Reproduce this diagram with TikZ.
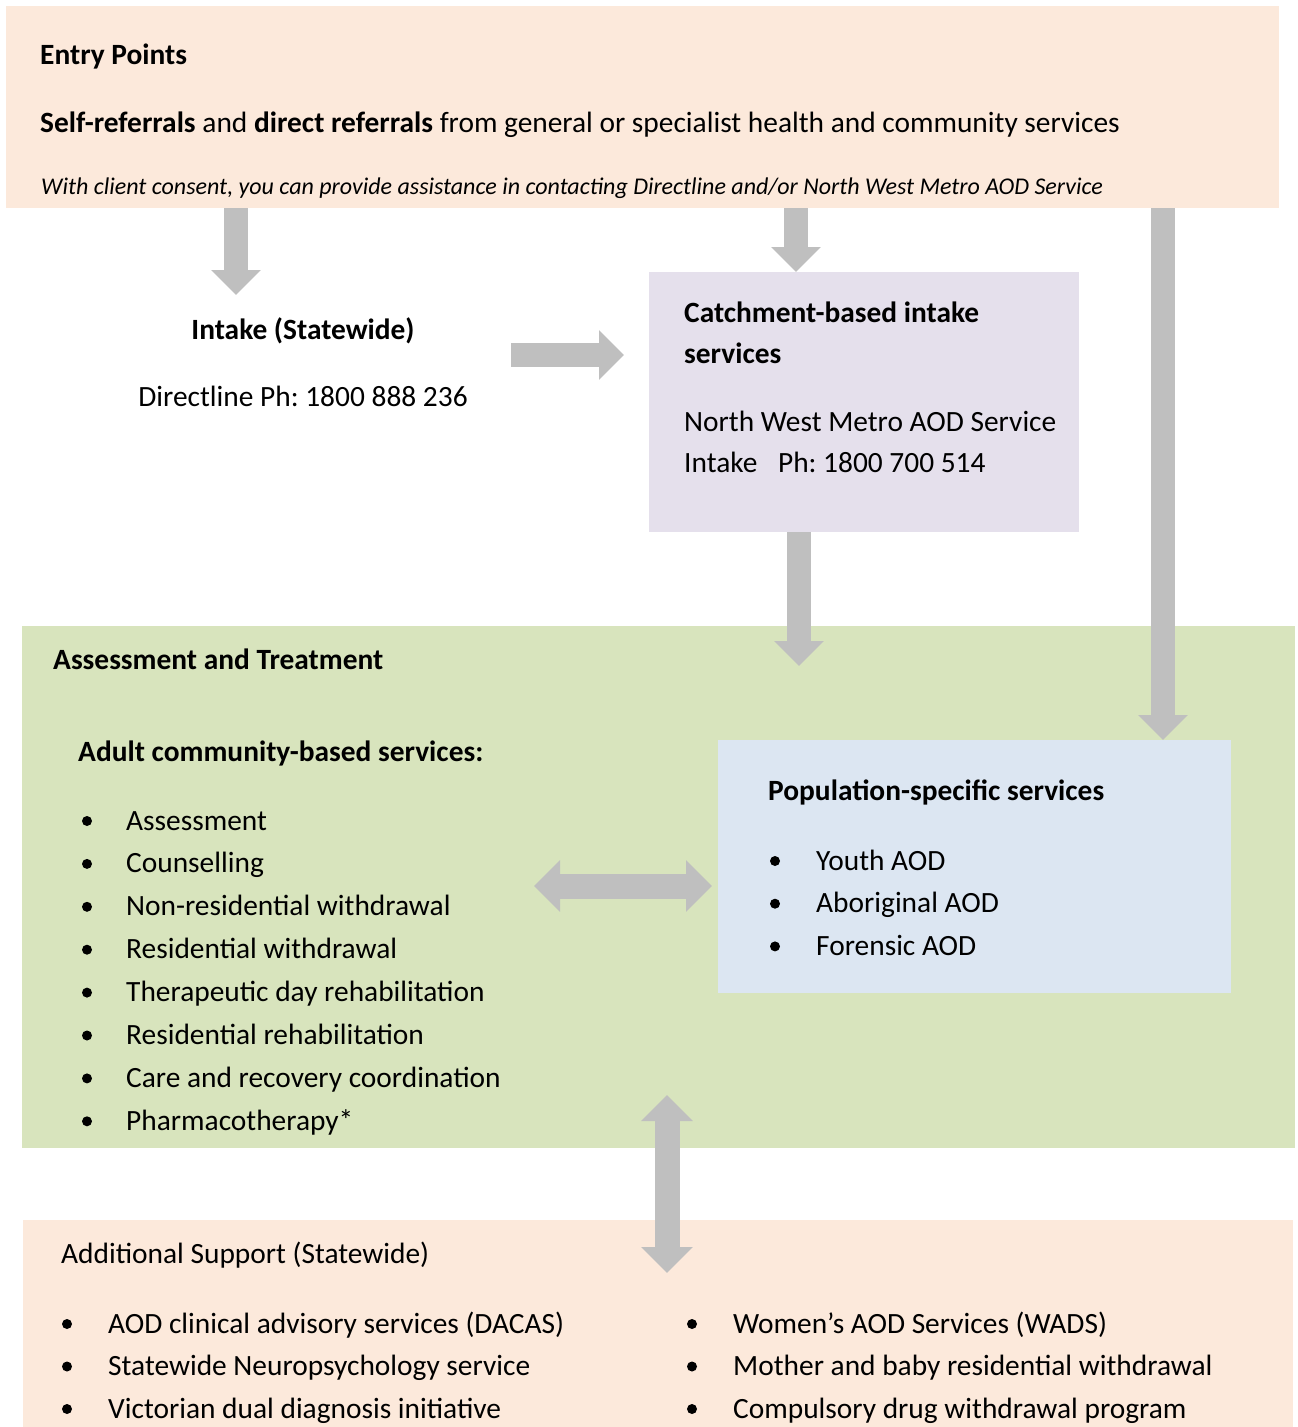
\documentclass[tikz,border=0pt]{standalone}
\usepackage{fontspec}
\setmainfont{Carlito}
\usepackage{tikz}
\usetikzlibrary{arrows.meta,positioning,calc}
\frenchspacing

\definecolor{peach}{HTML}{FCE9DB}
\definecolor{sage}{HTML}{D8E4BD}
\definecolor{lilac}{HTML}{E5E0EC}
\definecolor{paleblue}{HTML}{DCE6F2}
\definecolor{arrowgray}{HTML}{BFBFBF}

\tikzset{
  box/.style={anchor=north west, inner sep=0pt, outer sep=0pt},
  txt/.style={anchor=base west, inner sep=0pt, font=\fontsize{29.4}{35}\selectfont},
  ctxt/.style={txt, anchor=base},
  itxt/.style={txt, font=\fontsize{24}{29}\selectfont\itshape},
  flow/.style={draw=arrowgray, line width=24pt, -{Triangle[width=48pt,length=25pt]}},
  flowboth/.style={draw=arrowgray, line width=25pt,
    {Triangle[width=50pt,length=26pt]}-{Triangle[width=50pt,length=26pt]}},
}

\begin{document}
\begin{tikzpicture}[x=1pt,y=-1pt]
\useasboundingbox (0,0) rectangle (1298,1427);

% boxes
\node[box, fill=peach, minimum width=1273pt, minimum height=202pt] (entry) at (6,6) {};
\node[box, fill=lilac, minimum width=430pt, minimum height=260pt] (catch) at (649,272) {};
\node[box, fill=sage, minimum width=1273pt, minimum height=522pt] (treat) at (22,626) {};
\node[box, fill=paleblue, minimum width=513pt, minimum height=253pt] (popn) at (718,740) {};
\node[box, fill=peach, minimum width=1270pt, minimum height=210pt] (extra) at (23,1220) {};

% entry points
\node[txt] (entrytitle) at (40,64) {\textbf{Entry Points}};
\node[txt] (referrals) at (40,132) {\textbf{Self-referrals} and \textbf{direct referrals} from general or specialist health and community services};
\node[itxt] (consent) at (41,194) {With client consent, you can provide assistance in contacting Directline and/or North West Metro AOD Service};

% intake
\node[ctxt] (intake) at (303,339) {\textbf{Intake (Statewide)}};
\node[ctxt] (directline) at (303,406) {Directline Ph: 1800 888 236};

\node[txt] (catchtitle) at (684,322) {\textbf{Catchment-based intake}};
\node[txt] (catchtitle2) at (684,363) {\textbf{services}};
\node[txt] (nwm) at (684,431) {North West Metro AOD Service};
\node[txt] (nwmph) at (684,472) {Intake\hspace*{14pt} Ph: 1800 700 514};

% assessment and treatment
\node[txt] (treattitle) at (53,669) {\textbf{Assessment and Treatment}};
\node[txt] (adulttitle) at (78,761) {\textbf{Adult community-based services:}};
\foreach \item [count=\i] in {Assessment, Counselling, Non-residential withdrawal,
  Residential withdrawal, Therapeutic day rehabilitation, Residential rehabilitation,
  Care and recovery coordination, Pharmacotherapy*}{
  \node[txt] (adult\i) at (126,{830+(\i-1)*42.9}) {\item};
  \fill ($(adult\i.base west)+(-39,-9)$) circle (5);
}

\node[txt] (popntitle) at (768,800) {\textbf{Population-specific services}};
\foreach \item [count=\i] in {Youth AOD, Aboriginal AOD, Forensic AOD}{
  \node[txt] (popn\i) at (816,{870+(\i-1)*42.7}) {\item};
  \fill ($(popn\i.base west)+(-41,-9)$) circle (5);
}

% additional support
\node[txt] (extratitle) at (61,1263) {Additional Support (Statewide)};
\foreach \item [count=\i] in {AOD clinical advisory services (DACAS),
  Statewide Neuropsychology service, Victorian dual diagnosis initiative}{
  \node[txt] (extraL\i) at (108,{1333+(\i-1)*42.5}) {\item};
  \fill ($(extraL\i.base west)+(-41,-9)$) circle (5);
}
\foreach \item [count=\i] in {Women’s AOD Services (WADS),
  Mother and baby residential withdrawal, Compulsory drug withdrawal program}{
  \node[txt] (extraR\i) at (733,{1333+(\i-1)*42.5}) {\item};
  \fill ($(extraR\i.base west)+(-41,-9)$) circle (5);
}

% arrows
\coordinate (catchin) at ($(catch.west |- 0,355)+(-25,0)$);
\coordinate (popnin) at ($(popn.west |- 0,886)+(-6,0)$);
\draw[flow] (entry.south -| 236,0) -- (236,295);
\draw[flow] (entry.south -| 796,0) -- (catch.north -| 796,0);
\draw[flow] (511,355) -- (catchin);
\draw[flow] (catch.south -| 799,0) -- (799,666);
\draw[flow] (entry.south -| 1163,0) -- (popn.north -| 1163,0);
\draw[flowboth] (534,886) -- (popnin);
\draw[flowboth] (667,1095) -- (667,1273);
\end{tikzpicture}
\end{document}
